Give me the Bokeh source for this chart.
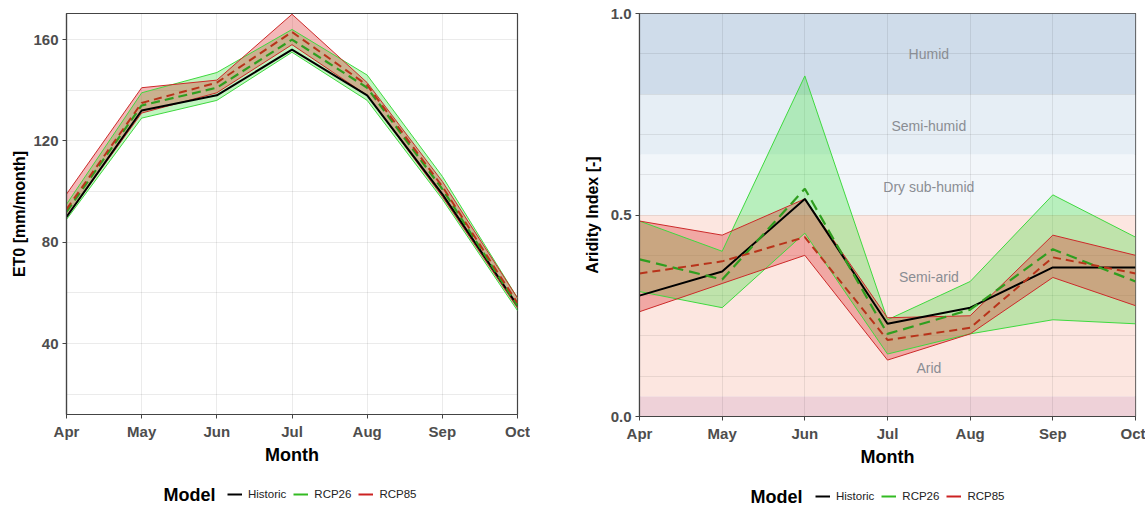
from bokeh.plotting import figure
from bokeh.models import (Range1d, FixedTicker, Legend, LegendItem, Label,
                          PrintfTickFormatter, Spacer, ColumnDataSource)
from bokeh.layouts import row, column
from bokeh.core.properties import value
from bokeh.embed import file_html
from bokeh.resources import INLINE

# ---------------- data ----------------
months = ["Apr", "May", "Jun", "Jul", "Aug", "Sep", "Oct"]

# ET0 [mm/month]
eto_historic = [90, 132, 138, 156, 138, 99, 55]
eto_rcp26 = [92, 134, 141, 160, 141, 101, 55]
eto_rcp85 = [93, 135, 143, 163, 142, 102, 56]
eto_rcp26_lo = [89, 129, 136, 155, 136, 97, 53]
eto_rcp26_hi = [95, 139, 147, 164, 146, 106, 58]
eto_rcp85_lo = [90, 131, 139, 158, 138, 98, 54]
eto_rcp85_hi = [99, 141, 144, 170, 143, 104, 58]

# Aridity index [-]
ai_historic = [0.30, 0.36, 0.54, 0.23, 0.27, 0.37, 0.37]
ai_rcp26 = [0.39, 0.34, 0.565, 0.205, 0.265, 0.415, 0.335]
ai_rcp85 = [0.355, 0.385, 0.445, 0.19, 0.22, 0.395, 0.355]
ai_rcp26_lo = [0.31, 0.27, 0.455, 0.155, 0.205, 0.24, 0.23]
ai_rcp26_hi = [0.485, 0.41, 0.845, 0.24, 0.335, 0.55, 0.445]
ai_rcp85_lo = [0.26, 0.33, 0.40, 0.14, 0.205, 0.345, 0.275]
ai_rcp85_hi = [0.485, 0.45, 0.54, 0.245, 0.25, 0.45, 0.40]

# aridity zones
zone_lo = [0.0, 0.05, 0.2, 0.5, 0.65, 0.8]
zone_hi = [0.05, 0.2, 0.5, 0.65, 0.8, 1.0]
zone_colors = ["#eed1d8", "#fce6e0", "#fce6e0", "#f2f6fa", "#e6eef5", "#cfdcea"]
zone_label_text = ["Humid", "Semi-humid", "Dry sub-humid", "Semi-arid", "Arid"]
zone_label_y = [0.9, 0.72, 0.57, 0.345, 0.12]
zone_label_x = [3.5, 3.5, 3.5, 3.5, 3.5]

eto_ticks = [40, 80, 120, 160]
eto_minor = [20, 60, 100, 140]
ai_ticks = [0.0, 0.5, 1.0]
ai_minor = [0.1, 0.2, 0.3, 0.4, 0.6, 0.7, 0.8, 0.9]

legend_labels = ["Historic", "RCP26", "RCP85"]
legend_colors = ["black", "#33bb22", "#cc2222"]
legend_title = "Model"

# ---------------- style ----------------
FONT = "Liberation Sans"
AX = "#444444"
GREEN_FILL = "#33dd33"
RED_FILL = "#dd3333"
GREEN_EDGE = "#3fd93f"
RED_EDGE = "#cc2a2a"
GREEN_LINE = "#2f9e1f"
RED_LINE = "#b8331a"

x = list(range(len(months)))
MAIN_H = 470
LEG_H = 507 - MAIN_H
NAN = float("nan")


def make_fig(width, yr, ml, mr, mb, ticks, minor, ylabel, lab_standoff):
    p = figure(width=width, height=MAIN_H,
               x_range=Range1d(0, len(months) - 1), y_range=Range1d(*yr),
               output_backend="svg", toolbar_location=None,
               min_border_left=ml, min_border_right=mr,
               min_border_top=13, min_border_bottom=mb)
    p.background_fill_color = "white"
    p.border_fill_color = "white"
    p.outline_line_color = AX
    p.outline_line_width = 1.2
    p.xaxis.ticker = FixedTicker(ticks=x)
    p.xaxis.major_label_overrides = {i: m for i, m in enumerate(months)}
    p.yaxis.ticker = FixedTicker(ticks=ticks, minor_ticks=minor)
    p.xaxis.axis_label = "Month"
    p.yaxis.axis_label = ylabel
    for ax in (p.xaxis[0], p.yaxis[0]):
        ax.axis_line_color = AX
        ax.axis_line_width = 1.2
        ax.major_tick_line_color = AX
        ax.major_tick_in = 0
        ax.major_tick_out = 4
        ax.minor_tick_line_color = None
        ax.major_label_text_font = FONT
        ax.major_label_text_font_style = "bold"
        ax.major_label_text_font_size = "15px"
        ax.major_label_text_color = "#4d4d4d"
        ax.major_label_standoff = 4
        ax.axis_label_text_font = FONT
        ax.axis_label_text_font_style = "bold"
        ax.axis_label_text_color = "black"
    p.xaxis.axis_label_text_font_size = "18px"
    p.xaxis.axis_label_standoff = 2
    p.yaxis.axis_label_text_font_size = "16px"
    p.yaxis.axis_label_standoff = lab_standoff
    p.grid.grid_line_color = "black"
    p.grid.grid_line_alpha = 0.08
    p.ygrid.minor_grid_line_color = "black"
    p.ygrid.minor_grid_line_alpha = 0.08
    return p


def draw_series(p, hist, r26, r85, r26lo, r26hi, r85lo, r85hi, dash26, dash85):
    p.varea(x=x, y1=r26lo, y2=r26hi, fill_color=GREEN_FILL, fill_alpha=0.3)
    p.varea(x=x, y1=r85lo, y2=r85hi, fill_color=RED_FILL, fill_alpha=0.35)
    for arr in (r26lo, r26hi):
        p.line(x, arr, line_color=GREEN_EDGE, line_width=1)
    for arr in (r85lo, r85hi):
        p.line(x, arr, line_color=RED_EDGE, line_width=1)
    p.line(x, hist, line_color="black", line_width=2)
    p.line(x, r26, line_color=GREEN_LINE, line_width=2.2, line_dash=dash26)
    p.line(x, r85, line_color=RED_LINE, line_width=2, line_dash=dash85)


def legend_fig(width, ml, mr, model_x, items_x, cy):
    # legend strip below a chart; its frame is aligned with the chart frame,
    # so x positions are pixels from the chart frame's left edge
    fw = width - ml - mr
    q = figure(width=width, height=LEG_H, x_range=Range1d(0, fw),
               y_range=Range1d(0, LEG_H), x_axis_type=None, y_axis_type=None,
               output_backend="svg", toolbar_location=None,
               min_border_left=ml, min_border_right=mr,
               min_border_top=0, min_border_bottom=0)
    q.outline_line_color = None
    q.grid.visible = False
    q.background_fill_color = "white"
    q.border_fill_color = "white"
    rends = [q.line(x=[NAN], y=[NAN], line_color=c, line_width=2)
             for c in legend_colors]
    leg = Legend(items=[LegendItem(label=l, renderers=[r])
                        for l, r in zip(legend_labels, rends)],
                 orientation="horizontal", location=(items_x, cy - 7),
                 glyph_width=15, glyph_height=14, label_standoff=6, spacing=7,
                 padding=0, margin=0, border_line_color=None,
                 background_fill_alpha=0,
                 label_text_font=FONT, label_text_font_size="11.5px",
                 label_text_color="#222222", label_height=14)
    q.add_layout(leg)
    q.add_layout(Label(x=model_x, y=cy, text=legend_title, text_font=FONT,
                       text_font_style="bold", text_font_size="18px",
                       text_color="black", text_baseline="middle",
                       text_align="left"))
    return q


# ---------------- left: ET0 ----------------
p1 = make_fig(530, (12, 170.3), 66, 13, MAIN_H - 414, eto_ticks, eto_minor,
              "ET0 [mm/month]", 2)
draw_series(p1, eto_historic, eto_rcp26, eto_rcp85,
            eto_rcp26_lo, eto_rcp26_hi, eto_rcp85_lo, eto_rcp85_hi,
            "9 5", "8 5")
l1 = legend_fig(530, 66, 13, 163 - 66, 227 - 66, 507 - 494)

# ---------------- right: aridity ----------------
p2 = make_fig(575, (0.0, 1.0), 69, 10, MAIN_H - 416, ai_ticks, ai_minor,
              "Aridity Index [-]", 7)
p2.yaxis.formatter = PrintfTickFormatter(format="%.1f")
zsrc = ColumnDataSource(dict(lo=zone_lo, hi=zone_hi, c=zone_colors,
                             l=[x[0]] * len(zone_lo), r=[x[-1]] * len(zone_lo)))
p2.quad(left="l", right="r", bottom="lo", top="hi", fill_color="c",
        line_color=None, source=zsrc, level="image")
p2.text(x=zone_label_x, y=zone_label_y, text=zone_label_text,
        text_font=value(FONT), text_font_size="14px", text_color="#8a8d93",
        text_align="center", text_baseline="middle")
draw_series(p2, ai_historic, ai_rcp26, ai_rcp85,
            ai_rcp26_lo, ai_rcp26_hi, ai_rcp85_lo, ai_rcp85_hi,
            "11 6", "8 5")
l2 = legend_fig(575, 69, 10, 750 - 639, 815 - 639, 507 - 496)

layout = row(column(p1, l1), Spacer(width=40, height=507), column(p2, l2))
open("out.html", "w").write(file_html(layout, INLINE))
